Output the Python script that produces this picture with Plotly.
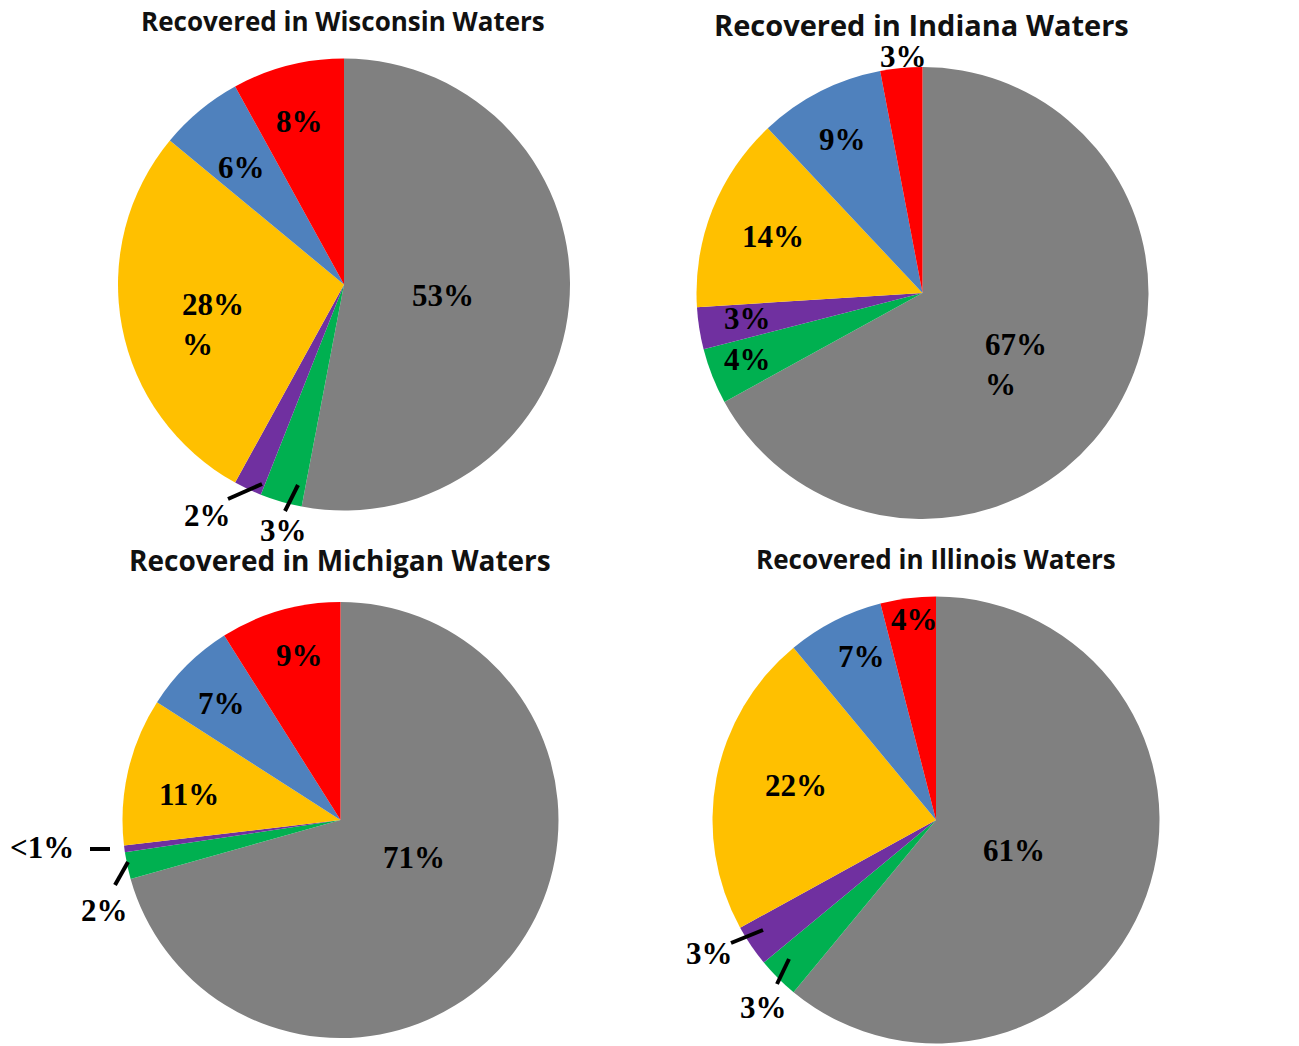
import plotly.graph_objects as go

# Share of recovered items by category, per state's waters (clockwise from 12 o'clock)
categories = ["Gray", "Green", "Purple", "Yellow", "Blue", "Red"]
colors = ["#808080", "#00B050", "#7030A0", "#FFC000", "#4F81BD", "#FF0000"]

wisconsin = [53, 3, 2, 28, 6, 8]
indiana = [67, 4, 3, 14, 9, 3]
michigan = [71, 2, 0.5, 11, 7, 9]
illinois = [61, 3, 3, 22, 7, 4]

titles = [
    "Recovered in Wisconsin Waters",
    "Recovered in Indiana Waters",
    "Recovered in Michigan Waters",
    "Recovered in Illinois Waters",
]

W, H = 1299, 1046


def px(x):
    return x / W


def py(y):
    return 1 - y / H


def pct(v):
    return "<1%" if v < 1 else f"{v:g}%"


# pie geometry in pixels: centre x, centre y, radius
pies = [
    (wisconsin, (344, 284.5, 226)),
    (indiana, (922.5, 293, 226)),
    (michigan, (340.5, 820, 218)),
    (illinois, (936, 820, 223.5)),
]

fig = go.Figure()
for values, (cx, cy, r) in pies:
    fig.add_trace(go.Pie(
        labels=categories,
        values=values,
        sort=False,
        direction="clockwise",
        rotation=0,
        marker=dict(colors=colors, line=dict(width=0)),
        textinfo="none",
        hoverinfo="label+percent",
        showlegend=False,
        domain=dict(x=[px(cx - r), px(cx + r)], y=[py(cy + r), py(cy - r)]),
    ))

# titles: (centre x, centre y, font size)
title_pos = [(343, 21, 26), (922, 24, 29), (340, 560, 28), (936, 559, 26)]
for t, (x, y, s) in zip(titles, title_pos):
    fig.add_annotation(
        text=t, x=px(x), y=py(y), xref="paper", yref="paper",
        showarrow=False, xanchor="center", yanchor="middle",
        font=dict(family="Open Sans", size=s, color="#111111", weight="bold"),
    )

# slice label anchor points (pixels), in slice order per pie
label_pos = [
    [(443, 296), (283, 530), (207, 515), (180, 324, "L"), (241, 167), (299, 122)],
    [(983, 364, "L"), (747, 359), (747, 319), (773, 236), (843, 139), (903, 57)],
    [(414, 857), (104, 910), (42, 847), (189, 794), (221, 703), (299, 655)],
    [(1014, 850), (763, 1007), (709, 953), (796, 785), (861, 656), (914, 619)],
]
label_font = dict(family="Liberation Serif", size=31, color="black", weight="bold")
for (values, _), positions in zip(pies, label_pos):
    for v, p in zip(values, positions):
        text = pct(v)
        if len(p) == 3:
            # label wrapped onto two lines, left aligned
            fig.add_annotation(
                text=text + "<br>%", x=px(p[0]), y=py(p[1]),
                xref="paper", yref="paper", showarrow=False,
                xanchor="left", yanchor="middle", align="left",
                font=label_font,
            )
        else:
            fig.add_annotation(
                text=text, x=px(p[0]), y=py(p[1]),
                xref="paper", yref="paper", showarrow=False,
                xanchor="center", yanchor="middle",
                font=label_font,
            )

# leader lines for the thin slices
leaders = [
    (228, 499, 262, 484), (285, 511, 298, 485),
    (90, 849, 110, 849), (115, 885, 128, 862),
    (731, 943, 763, 930), (777, 984, 789, 959),
]
for x0, y0, x1, y1 in leaders:
    fig.add_shape(type="line", xref="paper", yref="paper",
                  x0=px(x0), y0=py(y0), x1=px(x1), y1=py(y1),
                  line=dict(color="black", width=4))

fig.update_layout(
    width=W, height=H,
    margin=dict(l=0, r=0, t=0, b=0),
    paper_bgcolor="white",
    plot_bgcolor="white",
)

fig.write_html("out.html")
